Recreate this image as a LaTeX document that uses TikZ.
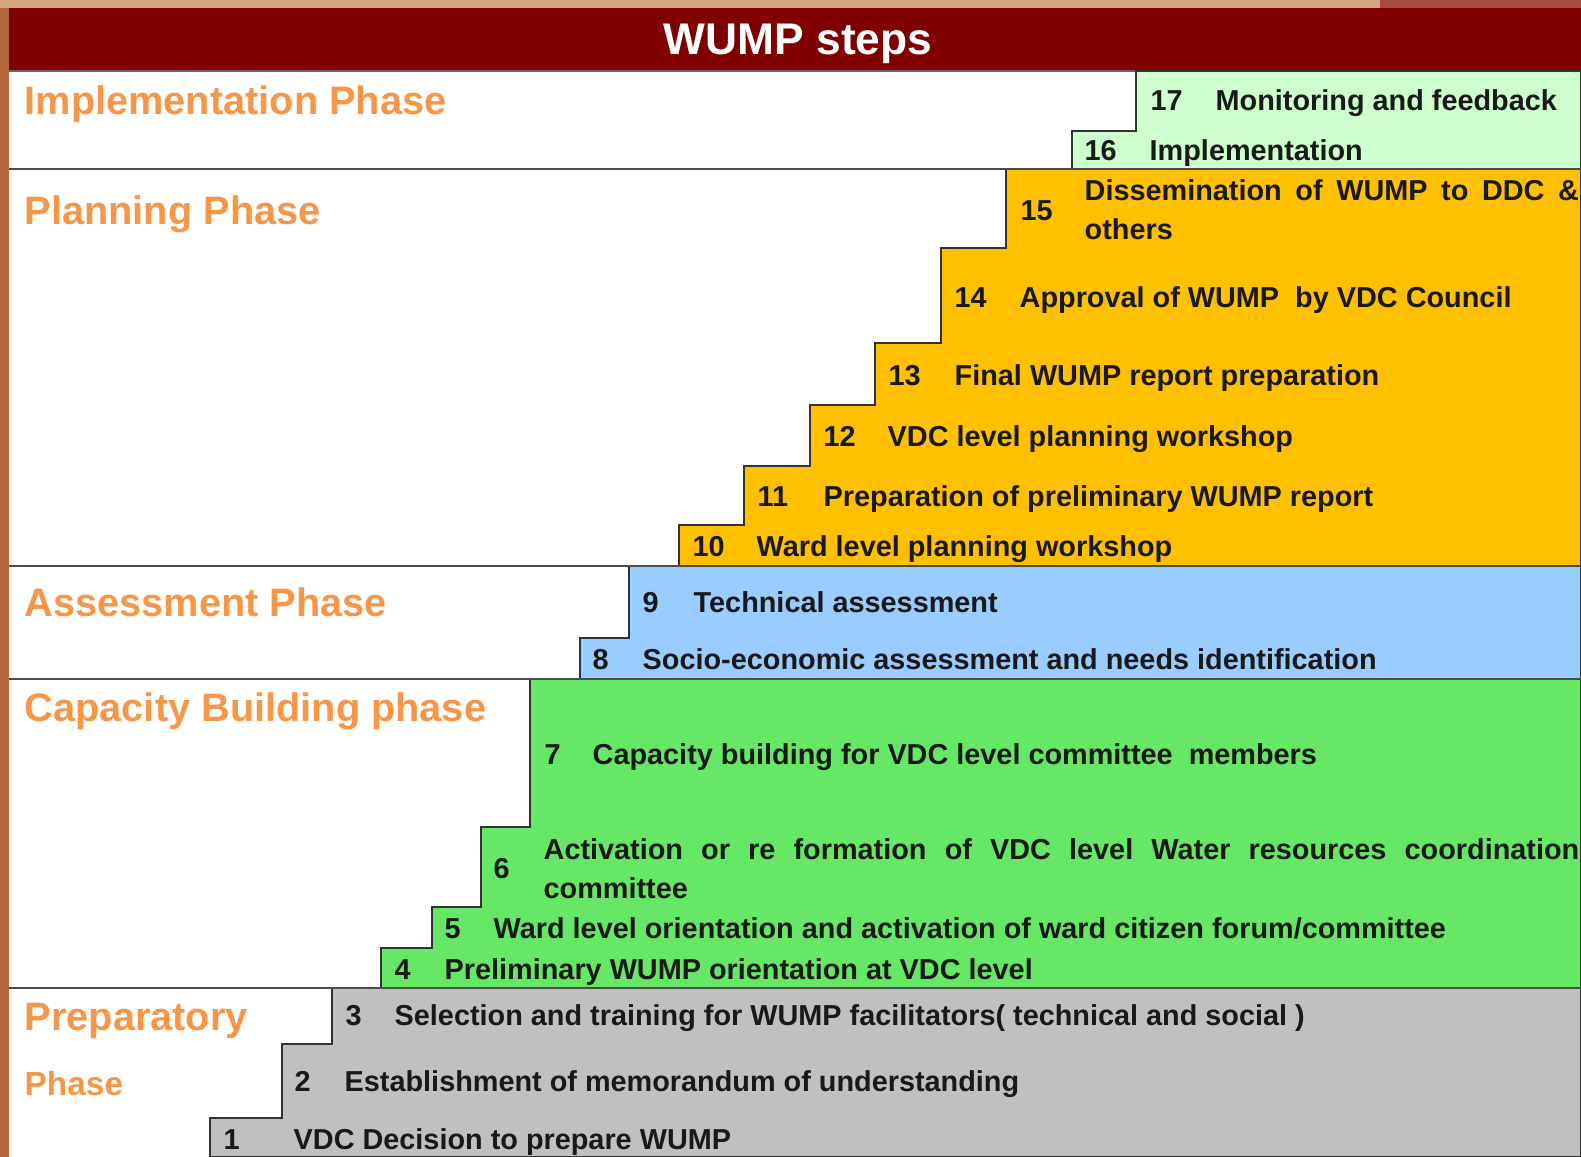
\documentclass[tikz,border=0pt]{standalone}
\usepackage{fontspec}
\setmainfont{Liberation Sans}
\usepackage{xcolor}
\tolerance=9999
\hyphenpenalty=10000
\exhyphenpenalty=10000
\definecolor{cHead}{HTML}{800000}
\definecolor{cPhase}{HTML}{F79646}
\definecolor{cImpl}{HTML}{CCFFCC}
\definecolor{cPlan}{HTML}{FFC000}
\definecolor{cAssess}{HTML}{99CCFF}
\definecolor{cCap}{HTML}{66E866}
\definecolor{cPrep}{HTML}{C0C0C0}
\definecolor{cTan}{HTML}{D4A77E}
\definecolor{cRust}{HTML}{A84A3C}
\definecolor{cBrown}{HTML}{B5683E}
\tikzset{
	phase/.style    ={anchor=base west, inner sep=0pt, text=cPhase, font=\fontsize{11.3}{13}\selectfont\bfseries},
	stepnum/.style  ={anchor=base west, inner sep=0pt, text=black!90, font=\fontsize{8.2}{10}\selectfont\bfseries},
	steptxt/.style  ={stepnum},
	steppar/.style  ={anchor=north west, inner sep=0pt, align=justify, text=black!90, font=\fontsize{8.2}{11.1}\selectfont\bfseries},
	stair/.style    ={draw=black!80, line width=0.45pt},
	divider/.style  ={draw=black!70, line width=0.7pt},
}
\begin{document}
\begin{tikzpicture}[x=0.01cm, y=-0.01cm]
	\useasboundingbox (0,0) rectangle (1581,1157);
	% frame and header
	\fill[white] (9,8) rectangle (1581,1157);
	\fill[cBrown] (0,0) rectangle (9,1157);
	\fill[cTan] (0,0) rectangle (1380,8);
	\fill[cRust] (1380,0) rectangle (1581,8);
	\fill[cHead] (9,8) rectangle (1581,71);
	\draw[black!60, line width=0.6pt] (9,71) -- (1581,71);
	\node[text=white, font=\fontsize{12.6}{14}\selectfont\bfseries] (title) at (798,44) {WUMP steps};
	% staircases
	\draw[stair, fill=cImpl] (1136,71) -- (1581,71) -- (1581,169) -- (1072,169) -- (1072,131) -- (1136,131) -- cycle;
	\draw[stair, fill=cPlan] (1006,169) -- (1581,169) -- (1581,566) -- (679,566) -- (679,525) -- (744,525) -- (744,466) -- (810,466) -- (810,405) -- (875,405) -- (875,343) -- (941,343) -- (941,248) -- (1006,248) -- cycle;
	\draw[stair, fill=cAssess] (629,566) -- (1581,566) -- (1581,679) -- (580,679) -- (580,638) -- (629,638) -- cycle;
	\draw[stair, fill=cCap] (530,679) -- (1581,679) -- (1581,988) -- (381,988) -- (381,948) -- (432,948) -- (432,907) -- (481,907) -- (481,827) -- (530,827) -- cycle;
	\draw[stair, fill=cPrep] (332,988) -- (1581,988) -- (1581,1157) -- (210,1157) -- (210,1118) -- (282,1118) -- (282,1044) -- (332,1044) -- cycle;
	% phase dividers
	\draw[divider] (9,169) -- (1581,169);
	\draw[divider] (9,566) -- (1581,566);
	\draw[divider] (9,679) -- (1581,679);
	\draw[divider] (9,988) -- (1581,988);
	% phase labels
	\node[phase] (pImpl) at (24,114) {Implementation Phase};
	\node[phase] (pPlan) at (24,224) {Planning Phase};
	\node[phase] (pAssess) at (24,616) {Assessment Phase};
	\node[phase] (pCap) at (24,721) {Capacity Building phase};
	\node[phase] (pPrep) at (24,1030) {Preparatory};
	\node[phase, font=\fontsize{9.5}{11}\selectfont\bfseries] (pPrep2) at (24,1095) {Phase};
	% implementation steps
	\node[stepnum] (n17) at (1150,110) {17};
	\node[steptxt] (t17) at (1215,110) {Monitoring and feedback};
	\node[stepnum] (n16) at (1084,160) {16};
	\node[steptxt] (t16) at (1149,160) {Implementation};
	% planning steps
	\node[stepnum] (n15) at (1020,220) {15};
	\node[steppar, text width=4.94cm] (t15) at (1084,179) {Dissemination of WUMP to DDC \& others};
	\node[stepnum] (n14) at (954,307) {14};
	\node[steptxt] (t14) at (1019,307) {Approval of WUMP\ \ by VDC Council};
	\node[stepnum] (n13) at (888,385) {13};
	\node[steptxt] (t13) at (954,385) {Final WUMP report preparation};
	\node[stepnum] (n12) at (823,446) {12};
	\node[steptxt] (t12) at (887,446) {VDC level planning workshop};
	\node[stepnum] (n11) at (757,506) {11};
	\node[steptxt] (t11) at (823,506) {Preparation of preliminary WUMP report};
	\node[stepnum] (n10) at (692,556) {10};
	\node[steptxt] (t10) at (756,556) {Ward level planning workshop};
	% assessment steps
	\node[stepnum] (n9) at (642,612) {9};
	\node[steptxt] (t9) at (693,612) {Technical assessment};
	\node[stepnum] (n8) at (592,669) {8};
	\node[steptxt] (t8) at (642,669) {Socio-economic assessment and needs identification};
	% capacity building steps
	\node[stepnum] (n7) at (544,764) {7};
	\node[steptxt] (t7) at (592,764) {Capacity building for VDC level committee\ \ members};
	\node[stepnum] (n6) at (493,878) {6};
	\node[steppar, text width=10.35cm] (t6) at (543,838) {Activation or re formation of VDC level Water resources coordination committee};
	\node[stepnum] (n5) at (444,938) {5};
	\node[steptxt] (t5) at (493,938) {Ward level orientation and activation of ward citizen forum/committee};
	\node[stepnum] (n4) at (394,979) {4};
	\node[steptxt] (t4) at (444,979) {Preliminary WUMP orientation at VDC level};
	% preparatory steps
	\node[stepnum] (n3) at (345,1025) {3};
	\node[steptxt] (t3) at (394,1025) {Selection and training for WUMP facilitators( technical and social )};
	\node[stepnum] (n2) at (294,1091) {2};
	\node[steptxt] (t2) at (344,1091) {Establishment of memorandum of understanding};
	\node[stepnum] (n1) at (223,1149) {1};
	\node[steptxt] (t1) at (293,1149) {VDC Decision to prepare WUMP};
\end{tikzpicture}
\end{document}
